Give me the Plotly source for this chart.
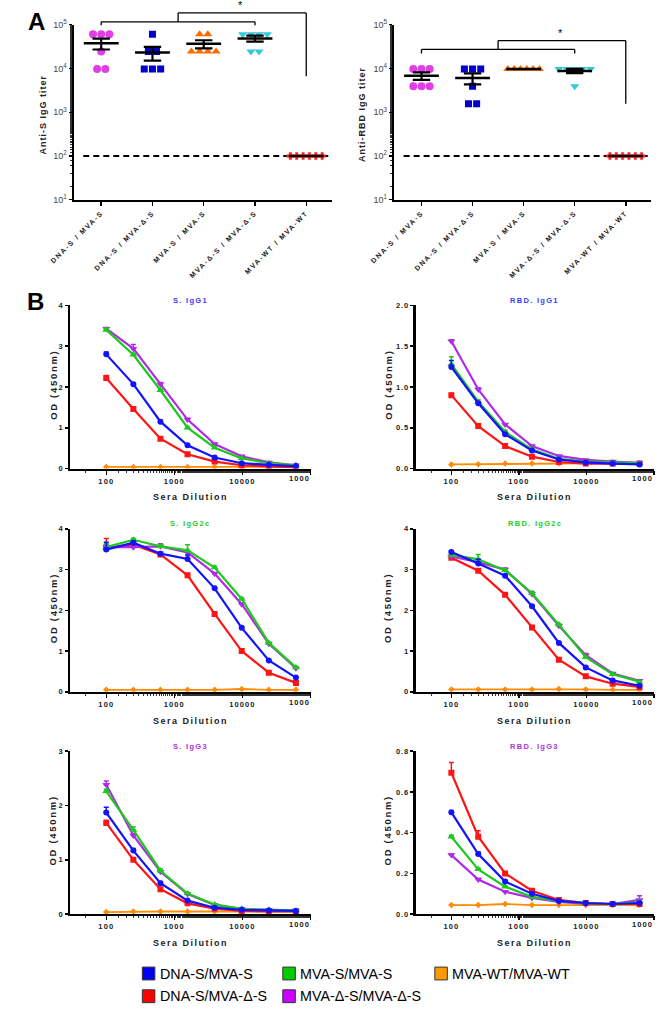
import numpy as np
import plotly.graph_objects as go

W, H = 660, 1021
FONT = "Liberation Sans, Arial, sans-serif"

# ---------------- Panel A data (endpoint titers) ----------------
A_CATEGORIES = ["DNA-S / MVA-S", "DNA-S / MVA-Δ-S", "MVA-S / MVA-S",
                "MVA-Δ-S / MVA-Δ-S", "MVA-WT / MVA-WT"]

S_TITER_DNA_S_MVA_S = [61035, 61035, 61035, 24414, 9766, 9766]
S_TITER_DNA_S_MVA_dS = [61035, 24414, 24414, 9766, 9766, 9766]
S_TITER_MVA_S_MVA_S = [61035, 61035, 24414, 24414, 24414, 24414]
S_TITER_MVA_dS_MVA_dS = [61035, 61035, 61035, 61035, 24414, 24414]
S_TITER_MVA_WT = [100, 100, 100, 100, 100, 100]

RBD_TITER_DNA_S_MVA_S = [9766, 9766, 9766, 3906, 3906, 3906]
RBD_TITER_DNA_S_MVA_dS = [9766, 9766, 9766, 3906, 1563, 1563]
RBD_TITER_MVA_S_MVA_S = [9766, 9766, 9766, 9766, 9766, 9766]
RBD_TITER_MVA_dS_MVA_dS = [9766, 9766, 9766, 9766, 9766, 3906]
RBD_TITER_MVA_WT = [100, 100, 100, 100, 100, 100]

LOD_TITER = 100
A_TICKVALS = [10, 100, 1000, 10000, 100000]
A_TICKTEXT = ["10<sup>1</sup>", "10<sup>2</sup>", "10<sup>3</sup>", "10<sup>4</sup>", "10<sup>5</sup>"]

# ---------------- Panel B data (ELISA OD450 vs dilution) ----------------
DILUTIONS = [100, 250, 625, 1562.5, 3906, 9766, 24414, 61035]
GROUPS = ["DNA-S/MVA-S", "DNA-S/MVA-Δ-S", "MVA-S/MVA-S", "MVA-Δ-S/MVA-Δ-S", "MVA-WT/MVA-WT"]

S_IGG1 = {
    "DNA-S/MVA-S":     [2.80, 2.07, 1.15, 0.57, 0.27, 0.13, 0.09, 0.06],
    "DNA-S/MVA-Δ-S":   [2.22, 1.46, 0.73, 0.35, 0.17, 0.08, 0.05, 0.03],
    "MVA-S/MVA-S":     [3.40, 2.79, 1.92, 1.00, 0.51, 0.25, 0.13, 0.08],
    "MVA-Δ-S/MVA-Δ-S": [3.43, 2.94, 2.07, 1.20, 0.60, 0.30, 0.15, 0.08],
    "MVA-WT/MVA-WT":   [0.04, 0.04, 0.04, 0.04, 0.04, 0.04, 0.04, 0.04],
}
S_IGG1_ERR = {
    "DNA-S/MVA-S":     [0.06, 0.03, 0.03, 0.02, 0.02, 0.01, 0.01, 0.01],
    "DNA-S/MVA-Δ-S":   [0.06, 0.05, 0.03, 0.02, 0.01, 0.01, 0.01, 0.01],
    "MVA-S/MVA-S":     [0.04, 0.04, 0.03, 0.02, 0.02, 0.01, 0.01, 0.01],
    "MVA-Δ-S/MVA-Δ-S": [0.03, 0.10, 0.04, 0.03, 0.02, 0.01, 0.01, 0.01],
    "MVA-WT/MVA-WT":   [0.0] * 8,
}
RBD_IGG1 = {
    "DNA-S/MVA-S":     [1.245, 0.80, 0.42, 0.22, 0.11, 0.075, 0.06, 0.05],
    "DNA-S/MVA-Δ-S":   [0.90, 0.52, 0.275, 0.145, 0.08, 0.06, 0.06, 0.06],
    "MVA-S/MVA-S":     [1.28, 0.82, 0.45, 0.235, 0.12, 0.085, 0.075, 0.065],
    "MVA-Δ-S/MVA-Δ-S": [1.56, 0.97, 0.54, 0.275, 0.154, 0.105, 0.085, 0.07],
    "MVA-WT/MVA-WT":   [0.05, 0.053, 0.06, 0.062, 0.065, 0.068, 0.068, 0.068],
}
RBD_IGG1_ERR = {
    "DNA-S/MVA-S":     [0.08, 0.02, 0.02, 0.01, 0.01, 0.0, 0.0, 0.0],
    "DNA-S/MVA-Δ-S":   [0.02, 0.02, 0.01, 0.01, 0.0, 0.0, 0.0, 0.0],
    "MVA-S/MVA-S":     [0.09, 0.02, 0.02, 0.01, 0.01, 0.0, 0.0, 0.0],
    "MVA-Δ-S/MVA-Δ-S": [0.02, 0.02, 0.01, 0.01, 0.0, 0.0, 0.0, 0.0],
    "MVA-WT/MVA-WT":   [0.0] * 8,
}
S_IGG2C = {
    "DNA-S/MVA-S":     [3.49, 3.66, 3.39, 3.26, 2.54, 1.57, 0.77, 0.35],
    "DNA-S/MVA-Δ-S":   [3.54, 3.61, 3.37, 2.86, 1.91, 1.00, 0.47, 0.22],
    "MVA-S/MVA-S":     [3.55, 3.73, 3.57, 3.47, 3.05, 2.28, 1.20, 0.60],
    "MVA-Δ-S/MVA-Δ-S": [3.55, 3.55, 3.57, 3.42, 2.90, 2.15, 1.18, 0.58],
    "MVA-WT/MVA-WT":   [0.05, 0.05, 0.05, 0.05, 0.05, 0.07, 0.05, 0.05],
}
S_IGG2C_ERR = {
    "DNA-S/MVA-S":     [0.18, 0.04, 0.03, 0.10, 0.03, 0.03, 0.02, 0.02],
    "DNA-S/MVA-Δ-S":   [0.22, 0.05, 0.03, 0.03, 0.03, 0.02, 0.02, 0.02],
    "MVA-S/MVA-S":     [0.08, 0.04, 0.03, 0.14, 0.03, 0.03, 0.02, 0.02],
    "MVA-Δ-S/MVA-Δ-S": [0.05, 0.05, 0.06, 0.04, 0.03, 0.03, 0.02, 0.02],
    "MVA-WT/MVA-WT":   [0.0] * 8,
}
RBD_IGG2C = {
    "DNA-S/MVA-S":     [3.43, 3.15, 2.85, 2.10, 1.20, 0.60, 0.28, 0.15],
    "DNA-S/MVA-Δ-S":   [3.29, 2.97, 2.38, 1.58, 0.79, 0.38, 0.20, 0.12],
    "MVA-S/MVA-S":     [3.36, 3.25, 2.98, 2.42, 1.65, 0.85, 0.43, 0.25],
    "MVA-Δ-S/MVA-Δ-S": [3.32, 3.18, 3.00, 2.40, 1.62, 0.90, 0.45, 0.27],
    "MVA-WT/MVA-WT":   [0.06, 0.06, 0.06, 0.06, 0.07, 0.06, 0.05, 0.05],
}
RBD_IGG2C_ERR = {
    "DNA-S/MVA-S":     [0.03, 0.10, 0.03, 0.03, 0.02, 0.02, 0.02, 0.01],
    "DNA-S/MVA-Δ-S":   [0.03, 0.04, 0.03, 0.03, 0.02, 0.02, 0.01, 0.01],
    "MVA-S/MVA-S":     [0.04, 0.12, 0.03, 0.03, 0.02, 0.02, 0.02, 0.01],
    "MVA-Δ-S/MVA-Δ-S": [0.03, 0.04, 0.04, 0.06, 0.02, 0.04, 0.02, 0.01],
    "MVA-WT/MVA-WT":   [0.0] * 8,
}
S_IGG3 = {
    "DNA-S/MVA-S":     [1.87, 1.17, 0.57, 0.25, 0.12, 0.08, 0.07, 0.06],
    "DNA-S/MVA-Δ-S":   [1.68, 1.00, 0.46, 0.20, 0.10, 0.06, 0.05, 0.05],
    "MVA-S/MVA-S":     [2.26, 1.55, 0.80, 0.38, 0.18, 0.10, 0.08, 0.07],
    "MVA-Δ-S/MVA-Δ-S": [2.38, 1.45, 0.78, 0.37, 0.17, 0.10, 0.08, 0.07],
    "MVA-WT/MVA-WT":   [0.04, 0.05, 0.05, 0.05, 0.05, 0.05, 0.05, 0.05],
}
S_IGG3_ERR = {
    "DNA-S/MVA-S":     [0.10, 0.04, 0.03, 0.02, 0.01, 0.01, 0.01, 0.01],
    "DNA-S/MVA-Δ-S":   [0.05, 0.03, 0.02, 0.02, 0.01, 0.01, 0.01, 0.01],
    "MVA-S/MVA-S":     [0.04, 0.06, 0.03, 0.02, 0.01, 0.01, 0.01, 0.01],
    "MVA-Δ-S/MVA-Δ-S": [0.07, 0.03, 0.02, 0.02, 0.01, 0.01, 0.01, 0.01],
    "MVA-WT/MVA-WT":   [0.0] * 8,
}
RBD_IGG3 = {
    "DNA-S/MVA-S":     [0.50, 0.295, 0.16, 0.10, 0.065, 0.055, 0.05, 0.055],
    "DNA-S/MVA-Δ-S":   [0.694, 0.38, 0.20, 0.115, 0.07, 0.055, 0.05, 0.05],
    "MVA-S/MVA-S":     [0.38, 0.22, 0.135, 0.085, 0.065, 0.055, 0.05, 0.06],
    "MVA-Δ-S/MVA-Δ-S": [0.29, 0.17, 0.11, 0.08, 0.06, 0.05, 0.05, 0.07],
    "MVA-WT/MVA-WT":   [0.045, 0.045, 0.05, 0.045, 0.045, 0.045, 0.045, 0.045],
}
RBD_IGG3_ERR = {
    "DNA-S/MVA-S":     [0.005, 0.01, 0.005, 0.005, 0.0, 0.0, 0.0, 0.005],
    "DNA-S/MVA-Δ-S":   [0.05, 0.03, 0.008, 0.005, 0.0, 0.0, 0.0, 0.0],
    "MVA-S/MVA-S":     [0.008, 0.005, 0.005, 0.0, 0.0, 0.0, 0.0, 0.005],
    "MVA-Δ-S/MVA-Δ-S": [0.005, 0.005, 0.005, 0.0, 0.0, 0.0, 0.0, 0.02],
    "MVA-WT/MVA-WT":   [0.0] * 8,
}

B_XTICKVALS = [100, 1000, 10000, 100000]
B_XTICKTEXT = ["100", "1000", "10000", "1000"]   # last label is truncated in the original

# ---------------- styles ----------------
LINE_COLORS = {"DNA-S/MVA-S": "#1212ff", "DNA-S/MVA-Δ-S": "#ff1414",
               "MVA-S/MVA-S": "#1ec81e", "MVA-Δ-S/MVA-Δ-S": "#b02ae8",
               "MVA-WT/MVA-WT": "#ff8c00"}
LEGEND_COLORS = {"DNA-S/MVA-S": "#0000ff", "DNA-S/MVA-Δ-S": "#ff0000",
                 "MVA-S/MVA-S": "#00cc00", "MVA-Δ-S/MVA-Δ-S": "#cc00ff",
                 "MVA-WT/MVA-WT": "#ff9900"}
SYMBOLS = {"DNA-S/MVA-S": ("circle", 6), "DNA-S/MVA-Δ-S": ("square", 6),
           "MVA-S/MVA-S": ("triangle-up", 7), "MVA-Δ-S/MVA-Δ-S": ("triangle-down", 7),
           "MVA-WT/MVA-WT": ("diamond", 5)}
DRAW_ORDER = ["MVA-WT/MVA-WT", "DNA-S/MVA-Δ-S", "MVA-Δ-S/MVA-Δ-S", "MVA-S/MVA-S", "DNA-S/MVA-S"]
A_STYLE = [("#e23ee6", "circle", 8), ("#0000c8", "square", 7), ("#ff6a00", "triangle-up", 8),
           ("#33c8dc", "triangle-down", 8), ("#ff2020", "cross", 6)]


def fx(px):
    return px / W


def fy(py):
    return 1 - py / H


def ls(text, sp):
    return f'<span style="letter-spacing:{sp}px">{text}</span>'


fig = go.Figure()
layout = dict(width=W, height=H, margin=dict(l=0, r=0, t=0, b=0), autosize=False,
              paper_bgcolor="white", plot_bgcolor="white", showlegend=False,
              font=dict(family=FONT, color="black"))
annotations = []
shapes = []

# ---------------- Panel A ----------------
A_PANELS = [
    (1, (52, 320), "Anti-S IgG titer", 20,
     [S_TITER_DNA_S_MVA_S, S_TITER_DNA_S_MVA_dS, S_TITER_MVA_S_MVA_S, S_TITER_MVA_dS_MVA_dS, S_TITER_MVA_WT],
     (1.017, 0.997, 1.068, 0.706)),
    (2, (385, 652), "Anti-RBD IgG titer", 352,
     [RBD_TITER_DNA_S_MVA_S, RBD_TITER_DNA_S_MVA_dS, RBD_TITER_MVA_S_MVA_S, RBD_TITER_MVA_dS_MVA_dS, RBD_TITER_MVA_WT],
     (0.859, 0.836, 0.910, 0.548)),
]
A_Y = (18, 195)

for idx, (x0p, x1p), ytitle, ytx, groups, br in A_PANELS:
    xa = "x" if idx == 1 else f"x{idx}"
    ya = "y" if idx == 1 else f"y{idx}"
    xkey = "xaxis" if idx == 1 else f"xaxis{idx}"
    ykey = "yaxis" if idx == 1 else f"yaxis{idx}"
    layout[xkey] = dict(domain=[fx(x0p), fx(x1p)], range=[-0.53, 4.5], anchor=ya,
                        tickvals=list(range(len(A_CATEGORIES))),
                        ticktext=[ls(c, 1.6) for c in A_CATEGORIES],
                        tickangle=-45, tickfont=dict(size=7, weight="bold", family=FONT, color="#222"),
                        showline=True, linecolor="black", linewidth=2.5, ticks="outside",
                        ticklen=4, tickwidth=1.5, tickcolor="black", showgrid=False, zeroline=False)
    layout[ykey] = dict(domain=[fy(A_Y[1]), fy(A_Y[0])], type="log", range=[1, 5], anchor=xa,
                        tickvals=A_TICKVALS, ticktext=A_TICKTEXT,
                        tickfont=dict(size=9, family=FONT, color="#444"),
                        showline=True, linecolor="black", linewidth=2.5, ticks="outside",
                        ticklen=3, tickwidth=1.2, tickcolor="black", showgrid=False, zeroline=False,
                        minor=dict(ticks="outside", ticklen=2, tickwidth=1, tickcolor="#333", showgrid=False))
    # limit of detection
    fig.add_trace(go.Scatter(x=[-0.35, 4.43], y=[LOD_TITER, LOD_TITER], mode="lines",
                             line=dict(color="black", width=2, dash="6px,4px"),
                             xaxis=xa, yaxis=ya, hoverinfo="skip"))
    for gi, vals in enumerate(groups):
        color, sym, size = A_STYLE[gi]
        xs, ys = [], []
        for v in sorted(set(vals), reverse=True):
            n = vals.count(v)
            sp = 0.16 if n < 2 else min(0.16, 0.62 / (n - 1))
            offs = (np.arange(n) - (n - 1) / 2) * sp
            xs += list(gi + offs)
            ys += [v] * n
        fig.add_trace(go.Scatter(x=xs, y=ys, mode="markers",
                                 marker=dict(symbol=sym, size=size, color=color,
                                             line=dict(width=0 if sym != "cross" else 0.5, color=color)),
                                 xaxis=xa, yaxis=ya, hoverinfo="skip"))
    for gi, vals in enumerate(groups):
        arr = np.array(vals, dtype=float)
        m = arr.mean()
        sem = arr.std(ddof=1) / np.sqrt(len(arr))
        fig.add_trace(go.Scatter(x=[gi - 0.34, gi + 0.34], y=[m, m], mode="lines",
                                 line=dict(color="black", width=2.5), xaxis=xa, yaxis=ya, hoverinfo="skip"))
        if sem > 0:
            fig.add_trace(go.Scatter(
                x=[gi - 0.17, gi + 0.17, None, gi, gi, None, gi - 0.17, gi + 0.17],
                y=[m + sem, m + sem, None, m + sem, m - sem, None, m - sem, m - sem],
                mode="lines", line=dict(color="black", width=2.2), xaxis=xa, yaxis=ya, hoverinfo="skip"))
    # significance bracket
    ylow, ydrop, yup, yright = br
    yref = f"{ya} domain"
    bl = dict(color="black", width=1.3)
    shapes += [
        dict(type="line", xref=xa, yref=yref, x0=0, x1=3, y0=ylow, y1=ylow, line=bl),
        dict(type="line", xref=xa, yref=yref, x0=0, x1=0, y0=ylow, y1=ydrop, line=bl),
        dict(type="line", xref=xa, yref=yref, x0=3, x1=3, y0=ylow, y1=ydrop, line=bl),
        dict(type="line", xref=xa, yref=yref, x0=1.5, x1=1.5, y0=ylow, y1=yup, line=bl),
        dict(type="line", xref=xa, yref=yref, x0=1.5, x1=4, y0=yup, y1=yup, line=bl),
        dict(type="line", xref=xa, yref=yref, x0=4, x1=4, y0=yup, y1=yright, line=bl),
    ]
    annotations.append(dict(text="*", xref=xa, yref=yref, x=2.72, y=yup, yanchor="bottom",
                            showarrow=False, font=dict(size=11, family=FONT, color="black")))
    annotations.append(dict(text=ls(ytitle, 1.0), xref="paper", yref="paper", x=fx(ytx),
                            y=fy((A_Y[0] + A_Y[1]) / 2 + 2), textangle=-90, showarrow=False,
                            font=dict(size=9, weight="bold", family=FONT, color="#222"),
                            xanchor="center", yanchor="middle"))

# ---------------- Panel B ----------------
B_PANELS = [
    (3, "S. IgG1", "#3a3aff", S_IGG1, S_IGG1_ERR, (48, 298), (302, 467), 4, [0, 1, 2, 3, 4], "d"),
    (4, "RBD. IgG1", "#3a3aff", RBD_IGG1, RBD_IGG1_ERR, (407, 655), (302, 467), 2, [0, 0.5, 1, 1.5, 2], "1f"),
    (5, "S. IgG2c", "#22cc22", S_IGG2C, S_IGG2C_ERR, (48, 298), (528, 693), 4, [0, 1, 2, 3, 4], "d"),
    (6, "RBD. IgG2c", "#22cc22", RBD_IGG2C, RBD_IGG2C_ERR, (407, 655), (528, 693), 4, [0, 1, 2, 3, 4], "d"),
    (7, "S. IgG3", "#b030e0", S_IGG3, S_IGG3_ERR, (48, 298), (753, 918), 3, [0, 1, 2, 3], "d"),
    (8, "RBD. IgG3", "#b030e0", RBD_IGG3, RBD_IGG3_ERR, (407, 655), (753, 918), 0.8, [0, 0.2, 0.4, 0.6, 0.8], "1f"),
]
BTICK_FONT = dict(size=7.5, weight="bold", family=FONT, color="#222")

for idx, title, tcol, data, err, (x0p, x1p), (y0p, y1p), ytop, yt, fmt in B_PANELS:
    xa, ya = f"x{idx}", f"y{idx}"
    ytext = [(f"{v:.1f}" if fmt == "1f" else f"{int(v)}") for v in yt]
    # the last (truncated) label is placed as an annotation so it ends at the axis end
    xt = [ls(t, 1.1) for t in B_XTICKTEXT[:-1]] + [" "]
    layout[f"xaxis{idx}"] = dict(domain=[fx(x0p), fx(x1p)], type="log", range=[1.47, 5.003], anchor=ya,
                                 tickvals=B_XTICKVALS, ticktext=xt, tickfont=BTICK_FONT,
                                 showline=True, linecolor="black", linewidth=2.2, ticks="outside",
                                 ticklen=4, tickwidth=1.5, tickcolor="black", showgrid=False, zeroline=False,
                                 minor=dict(ticks="outside", ticklen=2, tickwidth=1, tickcolor="#333",
                                            showgrid=False))
    annotations.append(dict(text=ls(B_XTICKTEXT[-1], 1.1), xref="paper", yref="paper",
                            x=fx(min(x1p + 1, 657)), y=fy(y1p + 10.5), xanchor="right", yanchor="middle",
                            showarrow=False, font=BTICK_FONT))
    layout[f"yaxis{idx}"] = dict(domain=[fy(y1p), fy(y0p)], range=[0, ytop], anchor=xa,
                                 tickvals=yt, ticktext=[ls(t, 0.8) for t in ytext],
                                 tickfont=BTICK_FONT,
                                 showline=True, linecolor="black", linewidth=2.2, ticks="outside",
                                 ticklen=3, tickwidth=1.5, tickcolor="black", showgrid=False, zeroline=False)
    for g in DRAW_ORDER:
        sym, size = SYMBOLS[g]
        c = LINE_COLORS[g]
        fig.add_trace(go.Scatter(
            x=DILUTIONS, y=data[g], mode="lines+markers",
            line=dict(color=c, width=2.2 if g != "MVA-WT/MVA-WT" else 1.8),
            marker=dict(symbol=sym, size=size, color=c),
            error_y=dict(type="data", array=err[g], arrayminus=[0] * len(err[g]), symmetric=False,
                         color=c, thickness=1.5, width=2.5),
            xaxis=xa, yaxis=ya, hoverinfo="skip"))
    xc = (x0p + x1p) / 2
    annotations.append(dict(text=ls(title, 1.3), xref="paper", yref="paper", x=fx(xc), y=fy(y0p - 5),
                            showarrow=False, xanchor="center", yanchor="middle",
                            font=dict(size=7.5, weight="bold", family=FONT, color=tcol)))
    annotations.append(dict(text=ls("Sera Dilution", 1.5), xref="paper", yref="paper", x=fx(xc),
                            y=fy(y1p + 29), showarrow=False, xanchor="center", yanchor="middle",
                            font=dict(size=9, weight="bold", family=FONT, color="#222")))
    annotations.append(dict(text=ls("OD (450nm)", 1.7), xref="paper", yref="paper",
                            x=fx(30 if x0p < 200 else 378), y=fy((y0p + y1p) / 2 - 2), textangle=-90,
                            showarrow=False, xanchor="center", yanchor="middle",
                            font=dict(size=9.5, weight="bold", family=FONT, color="#222")))

# panel letters
annotations.append(dict(text="<b>A</b>", xref="paper", yref="paper", x=fx(13), y=fy(15), showarrow=False,
                        xanchor="center", yanchor="middle", font=dict(size=24, family=FONT, color="black")))
annotations.append(dict(text="<b>B</b>", xref="paper", yref="paper", x=fx(12), y=fy(298), showarrow=False,
                        xanchor="center", yanchor="middle", font=dict(size=24, family=FONT, color="black")))

# ---------------- legend ----------------
LEGEND_POS = [("DNA-S/MVA-S", 123, 978), ("DNA-S/MVA-Δ-S", 123, 1001),
              ("MVA-S/MVA-S", 269, 978), ("MVA-Δ-S/MVA-Δ-S", 269, 1001),
              ("MVA-WT/MVA-WT", 427, 978)]
for g, lx, ly in LEGEND_POS:
    shapes.append(dict(type="rect", xref="paper", yref="paper", x0=fx(lx), x1=fx(lx + 13),
                       y0=fy(ly + 6.5), y1=fy(ly - 6.5), fillcolor=LEGEND_COLORS[g],
                       line=dict(color="#333", width=1)))
    annotations.append(dict(text=g, xref="paper", yref="paper", x=fx(lx + 16), y=fy(ly),
                            showarrow=False, xanchor="left", yanchor="middle",
                            font=dict(size=14.3, family=FONT, color="black")))

layout["annotations"] = annotations
layout["shapes"] = shapes
fig.update_layout(**layout)
# remove the default page margin so the 660x1021 figure fills the window exactly
fig.write_html("out.html", config={"displayModeBar": False, "staticPlot": True},
               post_script="document.body.style.margin='0px';document.body.style.overflow='hidden';")
